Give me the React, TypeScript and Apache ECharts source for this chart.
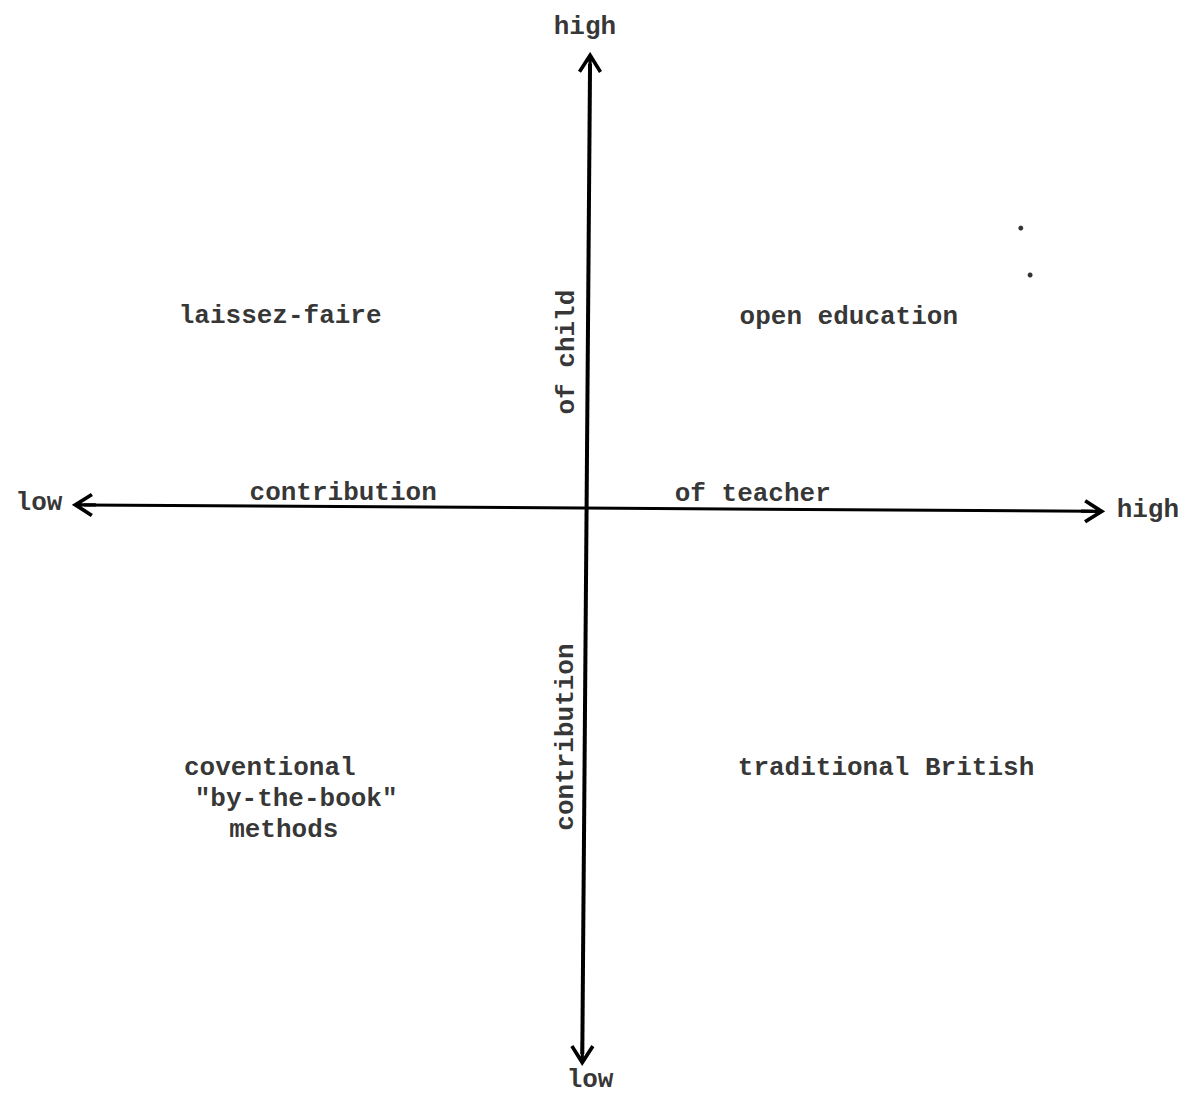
import React, { useEffect, useRef } from 'react';
import * as echarts from 'echarts';

// Conceptual scale: contribution of teacher (x) and of child (y), -1 = low, 1 = high
const X_RANGE = [-1, 1];
const Y_RANGE = [-1.232, 1];

// Axis arrows (end points, slightly tilted as in the typed original)
const teacherAxis = [[-0.977, 0.007], [0.977, -0.007]];
const childAxis = [[0.003, 0.974], [-0.012, -1.197]];

// Axis end labels
const endLabels = [
  { text: 'high', x: -0.007, y: 1.055 },
  { text: 'low', x: -1.064, y: 0.011 },
  { text: 'high', x: 1.083, y: -0.004 },
  { text: 'low', x: 0.003, y: -1.254 },
];

// Axis titles
const axisTitles = [
  { text: 'contribution', x: -0.475, y: 0.033, rotate: 0 },
  { text: 'of teacher', x: 0.318, y: 0.031, rotate: 0 },
  { text: 'of child', x: -0.0416, y: 0.342, rotate: 90 },
  { text: 'contribution', x: -0.0436, y: -0.502, rotate: 90 },
];

// Quadrant labels
const quadrantLabels = [
  { text: 'laissez-faire', x: -0.597, y: 0.421 },
  { text: 'open education', x: 0.504, y: 0.419 },
  { text: 'traditional British', x: 0.576, y: -0.57 },
  { text: 'coventional', x: -0.617, y: -0.57 },
  { text: '"by-the-book"', x: -0.566, y: -0.638 },
  { text: 'methods', x: -0.59, y: -0.706 },
];

// Stray specks from the scanned page
const specks = [
  [0.837, 0.614],
  [0.855, 0.511],
];

const INK = '#000000';
const FONT = '"Liberation Mono", "DejaVu Sans Mono", monospace';
const ARROW = 'path://M12,0 L24,19 L21,21 L13.6,9.5 L13.6,24 L10.4,24 L10.4,9.5 L3,21 L0,19 Z';

function textItems(list: { text: string; x: number; y: number; rotate?: number }[]) {
  return list.map((d) => ({
    value: [d.x, d.y],
    label: {
      show: true,
      position: 'inside',
      formatter: d.text,
      rotate: d.rotate || 0,
      color: INK,
      fontFamily: FONT,
      fontSize: 26,
      lineHeight: 24,
      fontWeight: 'bold',
      textBorderWidth: 0,
    },
  }));
}

export default function App() {
  const ref = useRef<HTMLDivElement>(null);
  useEffect(() => {
    document.body.style.margin = '0';
    const chart = echarts.init(ref.current!, null, { renderer: 'svg' });
    chart.setOption({
      animation: false,
      backgroundColor: '#ffffff',
      grid: { left: 72, right: 78, top: 52, bottom: 24 },
      xAxis: { type: 'value', min: X_RANGE[0], max: X_RANGE[1], show: false },
      yAxis: { type: 'value', min: Y_RANGE[0], max: Y_RANGE[1], show: false },
      series: [
        {
          type: 'lines',
          coordinateSystem: 'cartesian2d',
          silent: true,
          symbol: [ARROW, ARROW],
          symbolSize: 24,
          lineStyle: { color: INK, opacity: 1, curveness: 0 },
          data: [
            { coords: teacherAxis, lineStyle: { width: 3, color: INK } },
            { coords: childAxis, lineStyle: { width: 4, color: INK } },
          ],
        },
        {
          type: 'scatter',
          silent: true,
          clip: false,
          symbolSize: 1,
          itemStyle: { color: 'rgba(0,0,0,0)' },
          data: [...textItems(endLabels), ...textItems(axisTitles), ...textItems(quadrantLabels)],
        },
        {
          type: 'scatter',
          silent: true,
          clip: false,
          symbolSize: 5,
          itemStyle: { color: INK },
          data: specks,
        },
      ],
    });
    return () => chart.dispose();
  }, []);
  return <div ref={ref} style={{ width: 1183, height: 1094 }} />;
}
